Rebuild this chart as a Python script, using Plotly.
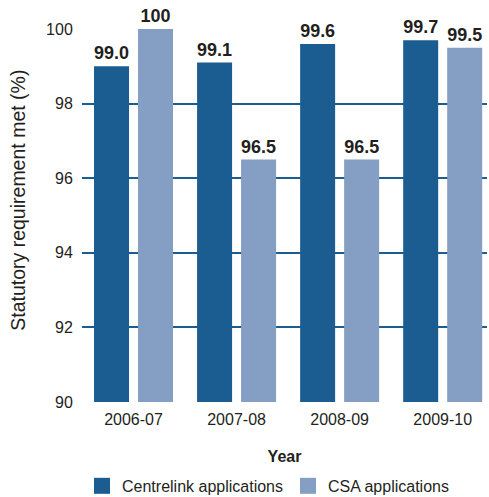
import plotly.graph_objects as go

years = ["2006-07", "2007-08", "2008-09", "2009-10"]
centrelink = [99.0, 99.1, 99.6, 99.7]
csa = [100, 96.5, 96.5, 99.5]
centrelink_labels = ["99.0", "99.1", "99.6", "99.7"]
csa_labels = ["100", "96.5", "96.5", "99.5"]

DARK = "#1b5d91"
LIGHT = "#849ec4"
TEXT = "#231f20"
FONT = "Liberation Sans, Arial, sans-serif"

series = [
    (centrelink, centrelink_labels, "Centrelink applications", DARK),
    (csa, csa_labels, "CSA applications", LIGHT),
]

fig = go.Figure()
for vals, labels, name, color in series:
    fig.add_trace(go.Bar(
        x=years, y=vals, name=name, showlegend=False,
        marker=dict(color=color, line=dict(width=0)),
        text=["<b>%s</b>" % t for t in labels], textposition="outside",
        cliponaxis=False,
        textfont=dict(family=FONT, size=18, color=TEXT),
    ))
# legend entries with larger square swatches
for vals, labels, name, color in series:
    fig.add_trace(go.Scatter(
        x=[None], y=[None], mode="markers", name=name,
        marker=dict(symbol="square", size=17, color=color),
    ))

fig.update_layout(
    width=489, height=497,
    margin=dict(l=82, r=2, t=29, b=95, autoexpand=False),
    paper_bgcolor="white", plot_bgcolor="white",
    barmode="group", bargap=0.146, bargroupgap=0.2045,
    font=dict(family=FONT, color=TEXT, size=16),
    legend=dict(
        orientation="h", x=0.0, xanchor="left", y=-0.225, yanchor="middle",
        font=dict(family=FONT, size=16, color=TEXT), itemsizing="trace",
    ),
    annotations=[dict(
        text="Statutory requirement met (%)", textangle=-90,
        xref="paper", yref="paper", x=-0.16, y=0.54,
        xanchor="center", yanchor="middle", showarrow=False,
        font=dict(family=FONT, size=19.5, color=TEXT),
    )],
)
fig.update_xaxes(
    type="category", range=[-0.5, 3.43], showgrid=False, zeroline=False,
    showline=False, ticks="outside", ticklen=3, tickcolor="rgba(0,0,0,0)",
    tickfont=dict(size=16, color=TEXT),
    title=dict(text="<b>Year</b>", font=dict(size=16, color=TEXT), standoff=23),
)
fig.update_yaxes(
    range=[90, 100], dtick=2, showgrid=True, gridcolor=DARK, gridwidth=2,
    zeroline=False, showline=False, ticks="outside", ticklen=5,
    tickcolor="rgba(0,0,0,0)",
    tickfont=dict(size=16, color=TEXT),
)

fig.write_html("out.html")
